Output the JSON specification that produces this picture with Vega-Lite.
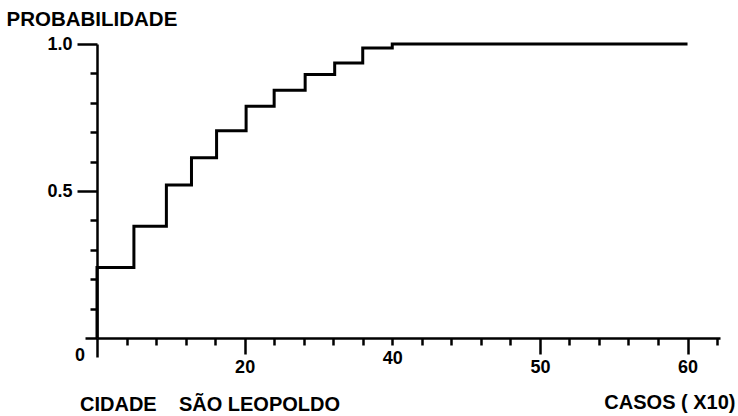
{
  "$schema": "https://vega.github.io/schema/vega-lite/v6.json",
  "width": 623,
  "height": 294,
  "autosize": {"type": "none"},
  "padding": {"left": 97, "top": 44, "right": 18, "bottom": 78},
  "background": "white",
  "config": {"view": {"stroke": null}, "font": "Liberation Sans"},
  "title": {
    "text": "CIDADE\u00a0\u00a0\u00a0\u00a0SÃO LEOPOLDO",
    "orient": "bottom",
    "anchor": "start",
    "frame": "group",
    "dx": -17,
    "dy": -17,
    "offset": 0,
    "font": "Liberation Sans",
    "fontSize": 20,
    "fontWeight": "bold",
    "color": "black"
  },
  "layer": [
    {
      "data": {
        "values": [
          {"casos": 20, "prob": 0},
          {"casos": 20, "prob": 0.24},
          {"casos": 22.5, "prob": 0.38},
          {"casos": 24.7, "prob": 0.52},
          {"casos": 26.4, "prob": 0.613},
          {"casos": 28.1, "prob": 0.705},
          {"casos": 30.1, "prob": 0.788},
          {"casos": 32.0, "prob": 0.843},
          {"casos": 34.1, "prob": 0.896},
          {"casos": 36.1, "prob": 0.935},
          {"casos": 38.0, "prob": 0.986},
          {"casos": 40.0, "prob": 1.0},
          {"casos": 60.0, "prob": 1.0}
        ]
      },
      "mark": {"type": "line", "interpolate": "step-after", "color": "black", "strokeWidth": 3, "clip": false},
      "encoding": {
        "x": {
          "field": "casos",
          "type": "quantitative",
          "scale": {"domain": [20, 62.2], "nice": false, "zero": false},
          "axis": {
            "values": [20, 22, 24, 26, 28, 30, 32, 34, 36, 38, 40, 42, 44, 46, 48, 50, 52, 54, 56, 58, 60, 62],
            "tickCount": 100,
            "labelExpr": "datum.value == 30 ? '20' : datum.value == 40 ? '40' : datum.value == 50 ? '50' : datum.value == 60 ? '60' : ''",
            "labelOverlap": false,
            "labelFont": "Liberation Sans",
            "labelFontSize": 18,
            "labelFontWeight": "bold",
            "labelColor": "black",
            "labelPadding": 4,
            "labelFlush": false,
            "tickSize": {"condition": [{"test": "datum.value == 20", "value": 19}, {"test": "datum.value == 30 || datum.value == 50 || datum.value == 60", "value": 16}], "value": 7},
            "tickColor": "black",
            "tickWidth": 2.5,
            "domainColor": "black",
            "domainWidth": 2.5,
            "grid": false,
            "title": "CASOS\u00a0(\u00a0X10)",
            "titleFont": "Liberation Sans",
            "titleFontSize": 20,
            "titleFontWeight": "bold",
            "titleColor": "black",
            "titleAlign": "right",
            "titleBaseline": "middle",
            "titleX": 638,
            "titleY": 64
          }
        },
        "y": {
          "field": "prob",
          "type": "quantitative",
          "scale": {"domain": [0, 1], "nice": false},
          "axis": {
            "values": [0, 0.1, 0.2, 0.3, 0.4, 0.5, 0.6, 0.7, 0.8, 0.9, 1],
            "tickCount": 100,
            "labelExpr": "datum.value == 1 ? '1.0' : datum.value == 0.5 ? '0.5' : ''",
            "labelOverlap": false,
            "labelFont": "Liberation Sans",
            "labelFontSize": 18,
            "labelFontWeight": "bold",
            "labelColor": "black",
            "labelPadding": 5,
            "labelFlush": false,
            "tickSize": {"condition": [{"test": "datum.value == 0.5 || datum.value == 1", "value": 20}, {"test": "datum.value == 0", "value": 12}], "value": 7},
            "tickColor": "black",
            "tickWidth": 2.5,
            "domainColor": "black",
            "domainWidth": 2.5,
            "grid": false,
            "title": "PROBABILIDADE",
            "titleFont": "Liberation Sans",
            "titleFontSize": 20.5,
            "titleFontWeight": "bold",
            "titleColor": "black",
            "titleAngle": 0,
            "titleAlign": "left",
            "titleBaseline": "middle",
            "titleX": -91,
            "titleY": -25
          }
        }
      }
    },
    {
      "data": {"values": [{"casos": 20, "prob": 0, "label": "0"}]},
      "mark": {"type": "text", "dx": -17, "dy": 18, "font": "Liberation Sans", "fontSize": 18, "fontWeight": "bold", "color": "black", "align": "center", "baseline": "middle"},
      "encoding": {
        "x": {"field": "casos", "type": "quantitative"},
        "y": {"field": "prob", "type": "quantitative"},
        "text": {"field": "label"}
      }
    }
  ]
}
